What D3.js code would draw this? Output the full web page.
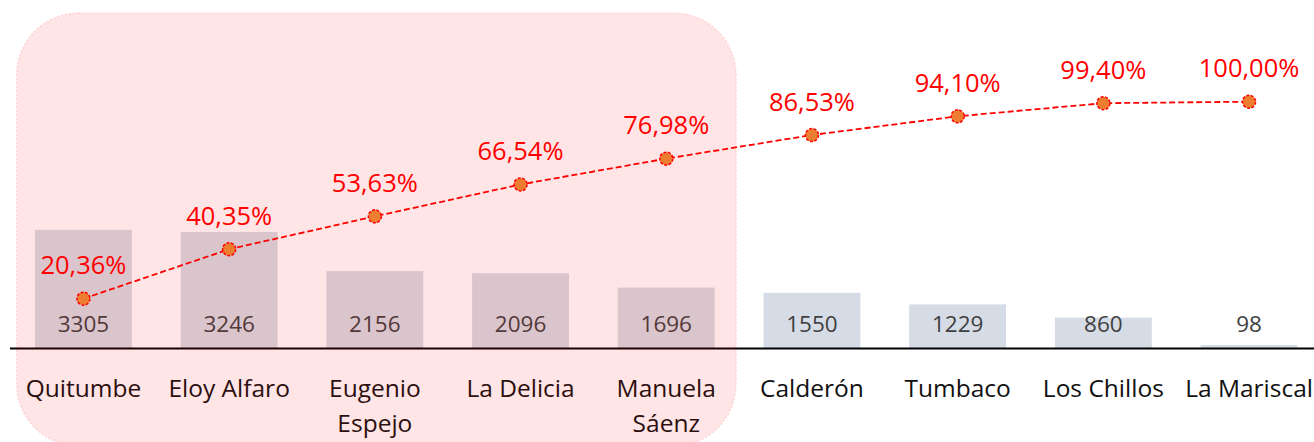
<!DOCTYPE html>
<html>
<head>
<meta charset="utf-8">
<script src="https://cdn.jsdelivr.net/npm/d3@7"></script>
<style>
  html, body { margin: 0; padding: 0; background: #fff; }
  #pareto-chart svg { display: block; font-family: "Open Sans", "Noto Sans", sans-serif; }
</style>
</head>
<body>
<div id="pareto-chart"></div>
<script>
// data
let zones = [["Quitumbe"], ["Eloy Alfaro"], ["Eugenio", "Espejo"], ["La Delicia"], ["Manuela", "Sáenz"],
  ["Calderón"], ["Tumbaco"], ["Los Chillos"], ["La Mariscal"]];
let counts = [3305, 3246, 2156, 2096, 1696, 1550, 1229, 860, 98];
let cumulative = [20.36, 40.35, 53.63, 66.54, 76.98, 86.53, 94.10, 99.40, 100.00];
let highlighted = 5; // first zones inside the pink box

let chartWidth = 1314,
chartHeight = 442,
baseLine = 348.5;

let names = zones.map(d => d.join(" "));

let x = d3.scaleBand()
.domain(names)
.range([10.6, 1321.9])
.paddingInner(0.335)
.paddingOuter(0.1675);

let yBars = d3.scaleLinear()
.domain([0, 3500])
.range([baseLine, baseLine - 3500 * 0.0359]);

let yPct = d3.scaleLinear()
.domain([0, 100])
.range([349, 101.7]);

let fmtPct = v => d3.format(".2f")(v).replace(".", ",") + "%";

let chart = d3.select("#pareto-chart").append("svg")
.attr("width", chartWidth)
.attr("height", chartHeight);

// bars
chart.selectAll("rect.bar")
.data(counts)
.enter()
.append("rect")
.classed("bar", true)
.attr("x", (d, i) => x(names[i]))
.attr("y", d => yBars(d))
.attr("width", x.bandwidth())
.attr("height", d => baseLine - yBars(d))
.attr("fill", "#d6dce5");

// bar values sit near the base
chart.selectAll("text.value")
.data(counts)
.enter()
.append("text")
.classed("value", true)
.attr("x", (d, i) => x(names[i]) + x.bandwidth() / 2)
.attr("y", baseLine - 16.5)
.attr("text-anchor", "middle")
.style("font-size", "22.5px")
.style("fill", "#404040")
.text(d => d);

// axis line
chart.append("line")
.attr("x1", 10)
.attr("x2", chartWidth)
.attr("y1", baseLine)
.attr("y2", baseLine)
.style("stroke", "#000")
.style("stroke-width", 2);

// category labels, split over two lines where needed
let labels = chart.selectAll("text.zone")
.data(zones)
.enter()
.append("text")
.classed("zone", true)
.attr("x", (d, i) => x(names[i]) + x.bandwidth() / 2)
.attr("y", 396.5)
.attr("text-anchor", "middle")
.style("font-size", "24.5px")
.style("fill", "#111");

labels.selectAll("tspan")
.data(d => d)
.enter()
.append("tspan")
.attr("x", function() { return d3.select(this.parentNode).attr("x") })
.attr("dy", (d, i) => i === 0 ? 0 : 35)
.text(d => d);

// pink box over the first zones
let boxLeft = x.range()[0] + 6,
boxRight = x.range()[0] + highlighted * x.step() - 3;

chart.append("rect")
.attr("x", boxLeft)
.attr("y", 13)
.attr("width", boxRight - boxLeft)
.attr("height", 433)
.attr("rx", 62)
.attr("ry", 62)
.style("fill", "rgba(255, 0, 0, 0.1)")
.style("stroke", "rgba(255, 0, 0, 0.12)")
.style("stroke-width", 1.5)
.style("stroke-dasharray", "2,2");

// cumulative line
let line = d3.line()
.x((d, i) => x(names[i]) + x.bandwidth() / 2)
.y(d => yPct(d));

chart.append("path")
.datum(cumulative)
.attr("d", line)
.style("fill", "none")
.style("stroke", "#ff0000")
.style("stroke-width", 1.8)
.style("stroke-dasharray", "6,3");

chart.selectAll("circle.point")
.data(cumulative)
.enter()
.append("circle")
.classed("point", true)
.attr("cx", (d, i) => x(names[i]) + x.bandwidth() / 2)
.attr("cy", d => yPct(d))
.attr("r", 6.5)
.style("fill", "#ed7d31")
.style("stroke", "#ff0000")
.style("stroke-width", 1.5)
.style("stroke-dasharray", "3,1.5");

chart.selectAll("text.pct")
.data(cumulative)
.enter()
.append("text")
.classed("pct", true)
.attr("x", (d, i) => x(names[i]) + x.bandwidth() / 2)
.attr("y", d => yPct(d) - 24.5)
.attr("text-anchor", "middle")
.style("font-size", "25.5px")
.style("fill", "#ff0000")
.text(d => fmtPct(d));
</script>
</body>
</html>
